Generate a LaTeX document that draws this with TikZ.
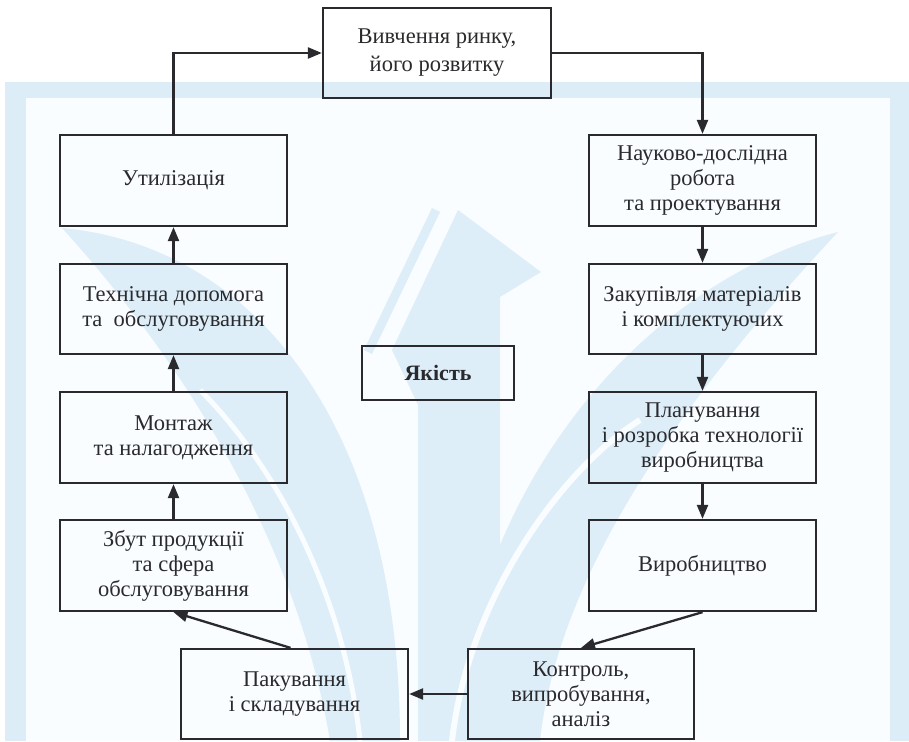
\documentclass[tikz,border=0pt]{standalone}
\usepackage{fontspec}
\setmainfont{Liberation Serif}
\usetikzlibrary{arrows.meta}
\definecolor{band}{RGB}{220,237,248}
\definecolor{paper}{RGB}{250,253,255}
\definecolor{wmark}{RGB}{221,238,248}
\definecolor{ink}{RGB}{42,42,46}
\tikzset{
  box/.style={draw=ink, line width=2.3pt, minimum width=227pt, minimum height=91pt,
    align=center, text=ink, inner sep=0pt,
    font=\fontsize{22.5}{25}\selectfont},
  conn/.style={draw=ink, line width=2.3pt,
    -{Triangle[length=14pt,width=11pt]}},
}
\begin{document}
\begin{tikzpicture}[x=1pt,y=-1pt]
\useasboundingbox (0,0) rectangle (909,741);
% background panel with its frame
\fill[band] (5,82) rectangle (909,741);
\fill[paper] (26,98) rectangle (890,741);
% faint emblem: central arrow and two curved prongs
\fill[wmark] (330,741) .. controls (300,560) and (200,380) .. (62,228)
  .. controls (250,245) and (400,420) .. (400,741) -- cycle;
\fill[wmark] (540,741) .. controls (560,560) and (700,380) .. (838,232)
  .. controls (650,280) and (470,480) .. (455,741) -- cycle;
\fill[wmark] (458,210) -- (541,272) -- (500,297) -- (500,741) -- (418,741)
  -- (418,405) -- (392,350) -- cycle;
\draw[paper, line width=6pt] (452,741) .. controls (468,600) and (560,470) .. (640,420);
\draw[wmark, line width=9pt] (436,210) -- (368,352);
\draw[paper, line width=5pt] (360,741) .. controls (345,600) and (280,470) .. (200,390);

% process boxes
\node[box, minimum width=228pt, minimum height=90pt, font=\fontsize{22.5}{28}\selectfont] (top) at (437,53) {Вивчення ринку,\\його розвитку};
\node[box] (util) at (173.5,180.5) {Утилізація};
\node[box, minimum height=90pt] (tech) at (173.5,309) {Технічна допомога\\та\ \ обслуговування};
\node[box] (mont) at (173.5,437.5) {Монтаж\\та налагодження};
\node[box] (zbut) at (173.5,565.5) {Збут продукції\\та сфера\\обслуговування};
\node[box] (nauk) at (702.5,180.5) {Науково-дослідна\\робота\\та проектування};
\node[box, minimum height=90pt] (zak) at (702.5,309) {Закупівля матеріалів\\і комплектуючих};
\node[box] (plan) at (702.5,437.5) {Планування\\і розробка технології\\виробництва};
\node[box] (vyr) at (702.5,565.5) {Виробництво};
\node[box, minimum height=90pt] (pak) at (294.5,694) {Пакування\\і складування};
\node[box, minimum width=226pt, minimum height=90pt] (kont) at (581,694) {Контроль,\\випробування,\\аналіз};
\node[box, minimum width=152pt, minimum height=54pt, font=\fontsize{22}{25}\selectfont\bfseries] (yak) at (438,373) {Якість};

% flow
\draw[conn] (util.north) |- (top.west);
\draw[conn] (top.east) -| (nauk.north);
\draw[conn] (nauk.south) -- (zak.north);
\draw[conn] (zak.south) -- (plan.north);
\draw[conn] (plan.south) -- (vyr.north);
\draw[conn] (vyr.south) -- (kont.north);
\draw[conn] (kont.west) -- (pak.east);
\draw[conn] ([xshift=-4pt]pak.north) -- (zbut.south);
\draw[conn] (zbut.north) -- (mont.south);
\draw[conn] (mont.north) -- (tech.south);
\draw[conn] (tech.north) -- (util.south);
\end{tikzpicture}
\end{document}
